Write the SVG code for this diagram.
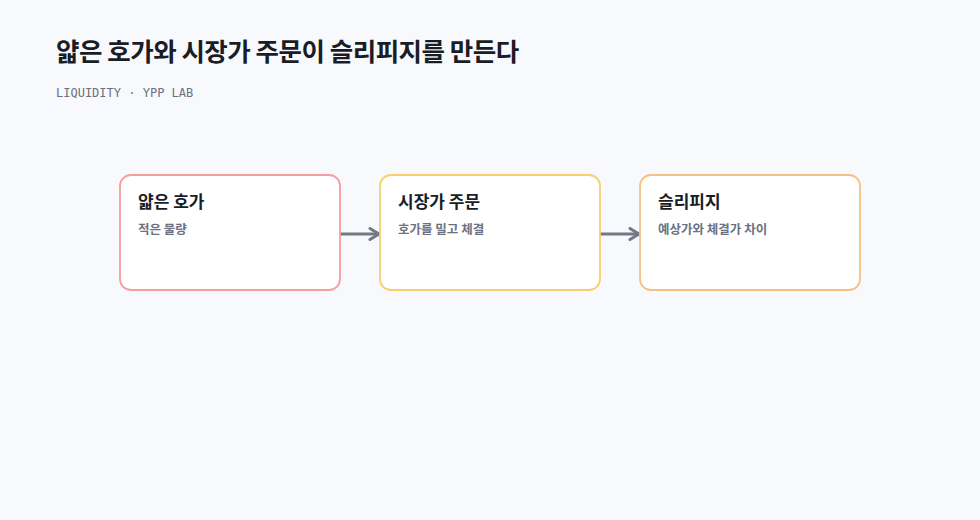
<svg xmlns="http://www.w3.org/2000/svg" width="980" height="520" viewBox="0 0 980 520">
<defs>
<style>
.bg{fill:#f8f9fc}
.title{font-family:"Noto Sans CJK KR","Noto Sans",sans-serif;font-size:25.5px;font-weight:700;fill:#1a1d26;letter-spacing:-0.5px}
.sub{font-family:"DejaVu Sans Mono","Liberation Mono",monospace;font-size:12px;fill:#6b7180}
.box{fill:#ffffff;stroke-width:1.8}
.nt{font-family:"Noto Sans CJK KR","Noto Sans",sans-serif;font-size:17px;font-weight:700;fill:#1a1d26}
.ns{font-family:"Noto Sans CJK KR","Noto Sans",sans-serif;font-size:12.5px;font-weight:700;fill:#6b7180}
.edge{fill:none;stroke:#737886;stroke-width:3;stroke-linecap:round}
</style>
<marker id="arr" viewBox="0 0 12 14" refX="11" refY="7" markerWidth="12" markerHeight="14" markerUnits="userSpaceOnUse" orient="auto">
<path d="M2,1.5 L11,7 L2,12.5" fill="none" stroke="#737886" stroke-width="3" stroke-linecap="round" stroke-linejoin="round"/>
</marker>
</defs>
<rect class="bg" x="0" y="0" width="980" height="520"/>
<text class="title" x="56" y="61">얇은 호가와 시장가 주문이 슬리피지를 만든다</text>
<text class="sub" x="56" y="97">LIQUIDITY · YPP LAB</text>
<g id="connectors">
<line class="edge" x1="341" y1="234" x2="379" y2="234" marker-end="url(#arr)"/>
<line class="edge" x1="601" y1="234" x2="639" y2="234" marker-end="url(#arr)"/>
</g>
<g id="node-thin-book">
<rect class="box" x="120" y="175" width="220" height="115" rx="11" stroke="#f69d9d"/>
<text class="nt" x="138" y="208">얇은 호가</text>
<text class="ns" x="138" y="234">적은 물량</text>
</g>
<g id="node-market-order">
<rect class="box" x="380" y="175" width="220" height="115" rx="11" stroke="#f6cf6e"/>
<text class="nt" x="398" y="208">시장가 주문</text>
<text class="ns" x="398" y="234">호가를 밀고 체결</text>
</g>
<g id="node-slippage">
<rect class="box" x="640" y="175" width="220" height="115" rx="11" stroke="#f8bf84"/>
<text class="nt" x="658" y="208">슬리피지</text>
<text class="ns" x="658" y="234">예상가와 체결가 차이</text>
</g>
</svg>
